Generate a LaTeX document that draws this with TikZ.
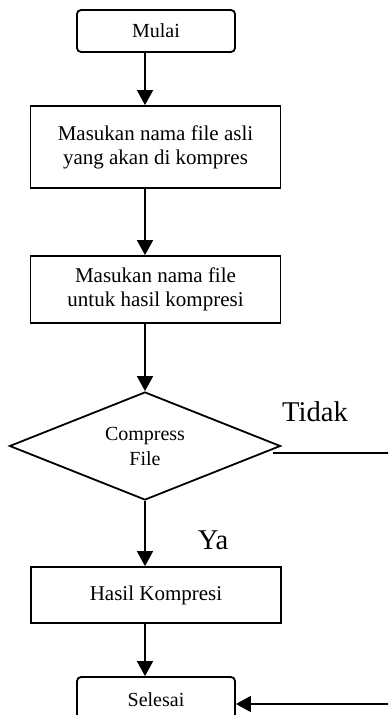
\documentclass[tikz,border=0pt]{standalone}
\usepackage{fontspec}
\setmainfont{Liberation Serif}
\usetikzlibrary{arrows.meta}
\usetikzlibrary{shapes.geometric}
\usetikzlibrary{positioning}

\tikzset{
terminal/.style={rectangle,draw,rounded corners=2pt,line width=0.9pt,minimum width=79pt,minimum height=21pt,inner sep=0pt,font=\fontsize{10}{12}\selectfont},
process/.style={rectangle,draw,line width=0.9pt,minimum width=125pt,inner sep=0pt,align=center,font=\fontsize{10.5}{12}\selectfont},
decision/.style={diamond,draw,line width=0.9pt,aspect=2.5,minimum width=135.5pt,minimum height=54pt,inner sep=0pt,align=center,font=\fontsize{10}{12.5}\selectfont},
flow/.style={line width=0.9pt,-{Triangle[width=8pt,length=7.5pt]}},
branch/.style={font=\fontsize{14.3}{16}\selectfont},
}

\begin{document}
\begin{tikzpicture}[x=0.5pt,y=-0.5pt]
\clip (0,0) rectangle (388,715);
\node[terminal] (mulai) at (156,31) {Mulai};
\node[process,minimum height=41pt] (asli) at (155.5,147) {Masukan nama file asli\\yang akan di kompres};
\node[process,minimum height=33.5pt] (hasilnama) at (155.5,289.5) {Masukan nama file\\untuk hasil kompresi};
\node[decision] (compress) at (145,446) {Compress\\File};
\node[process,minimum height=28pt] (hasil) at (156,595) {Hasil Kompresi};
\node[terminal,minimum height=23pt] (selesai) at (156,700) {Selesai};

\node[branch] (tidak) at (315,412) {Tidak};
\node[branch] (ya) at (213,540) {Ya};

\coordinate (tidakA) at (273,452.7);
\coordinate (tidakB) at (394,452.7);
\coordinate (tidakC) at (394,704);

\draw[flow] (mulai.south -| compress.north) -- (asli.north -| compress.north);
\draw[flow] (asli.south -| compress.north) -- (hasilnama.north -| compress.north);
\draw[flow] (hasilnama.south -| compress.north) -- (compress.north);
\draw[flow] (compress.south) -- (hasil.north -| compress.south);
\draw[flow] (hasil.south -| compress.south) -- (selesai.north -| compress.south);
\draw[line width=0.9pt] (tidakA) -- (tidakB) -- (tidakC);
\draw[flow] (tidakC) -- (tidakC -| selesai.east);

\end{tikzpicture}
\end{document}
